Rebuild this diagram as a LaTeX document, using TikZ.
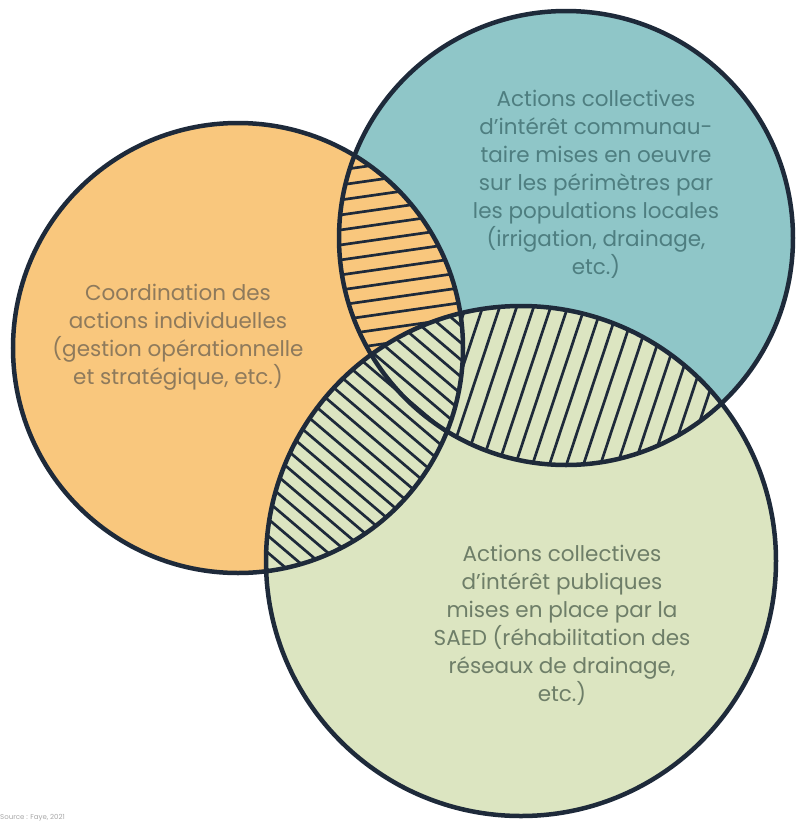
\documentclass[tikz,border=0pt]{standalone}
\usepackage{fontspec}
\setmainfont{Poppins}
\usetikzlibrary{calc}

\definecolor{navy}{HTML}{1E2A3A}
\definecolor{orangefill}{HTML}{F9C77D}
\definecolor{tealfill}{HTML}{8FC6C8}
\definecolor{greenfill}{HTML}{DCE5C1}
\definecolor{orangetext}{HTML}{8E7A5C}
\definecolor{tealtext}{HTML}{4E7E80}
\definecolor{greentext}{HTML}{6E7E68}

\begin{document}
\begin{tikzpicture}[x=1pt,y=-1pt,
  rim/.style={navy,line width=4.5pt},
  hatch/.style={navy,line width=2.7pt,line cap=round},
  label/.style={align=center,font=\fontsize{21.5}{28}\selectfont}]
  \useasboundingbox (0,0) rectangle (796,823);

  \coordinate (Cind) at (238,348);
  \coordinate (Ccom) at (566,238);
  \coordinate (Cpub) at (521,561);

  \path[fill=tealfill] (Ccom) circle [radius=227pt];
  \path[fill=orangefill] (Cind) circle [radius=225pt];

  \begin{scope}
    \clip (Cind) circle [radius=225pt];
    \clip (Ccom) circle [radius=227pt];
    \foreach \c in {130,145,...,445}
      \draw[hatch] (340,{\c+10}) -- (480,{\c-10});
  \end{scope}

  \path[fill=greenfill] (Cpub) circle [radius=255pt];

  \begin{scope}
    \clip (Cpub) circle [radius=255pt];
    \clip (Ccom) circle [radius=227pt];
    \foreach \c in {320,337,...,760}
      \draw[hatch] (\c,490) -- ({\c+63},300);
  \end{scope}

  \begin{scope}
    \clip (Cpub) circle [radius=255pt];
    \clip (Cind) circle [radius=225pt];
    \path[fill=greenfill] (Cpub) circle [radius=255pt];
    \foreach \c in {-100,-83,...,370}
      \draw[hatch] (240,{\c+0.85*240}) -- (490,{\c+0.85*490});
  \end{scope}

  \draw[rim] (Ccom) circle [radius=227pt];
  \draw[rim] (Cind) circle [radius=225pt];
  \draw[rim] (Cpub) circle [radius=255pt];

  \node[label,text=orangetext] (coord) at (178,337)
    {Coordination des\\actions individuelles\\(gestion opérationnelle\\et stratégique, etc.)};
  \node[label,text=tealtext] (comm) at (596,184)
    {Actions collectives\\d'intérêt communau-\\taire mises en oeuvre\\sur les périmètres par\\les populations locales\\(irrigation, drainage,\\etc.)};
  \node[label,text=greentext] (pub) at (562,625)
    {Actions collectives\\d'intérêt publiques\\mises en place par la\\SAED (réhabilitation des\\réseaux de drainage,\\etc.)};

  \node[anchor=base west,inner sep=0pt,text=black!35,font=\fontsize{7}{8}\selectfont] (src) at (0,819)
    {Source : Faye, 2021};
\end{tikzpicture}
\end{document}
